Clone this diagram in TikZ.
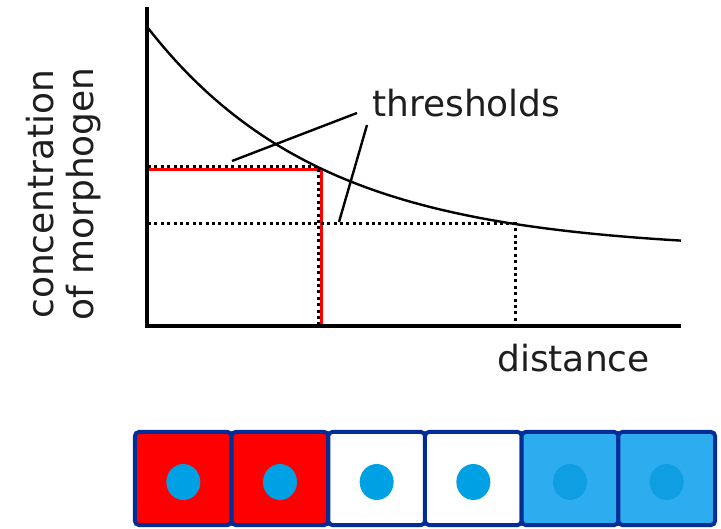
\documentclass[tikz,border=0pt]{standalone}
\usepackage{fontspec}
\setmainfont{DejaVu Sans}
\definecolor{cellborder}{RGB}{0,45,150}
\definecolor{dotblue}{RGB}{0,160,228}
\definecolor{cellblue}{RGB}{45,172,240}
\definecolor{dotdark}{RGB}{15,158,225}
\definecolor{pure red}{RGB}{255,0,0}
\definecolor{textgray}{RGB}{30,30,30}
\tikzset{
  axis/.style={line width=3.4pt},
  curve/.style={line width=2.4pt},
  redline/.style={line width=2.2pt, pure red},
  dotline/.style={line width=3pt, dash pattern=on 3pt off 3.4pt},
  leader/.style={line width=2.4pt},
  lbl/.style={font=\fontsize{36}{40}\selectfont, inner sep=0pt, text=textgray},
  cellbox/.style={draw=cellborder, line width=4pt, rounded corners=4pt, minimum width=96.7pt, minimum height=93pt, inner sep=0pt},
  celldot/.style={ellipse, minimum width=34pt, minimum height=36pt, inner sep=0pt, draw=none}
}
\usetikzlibrary{shapes.geometric}
\begin{document}
\begin{tikzpicture}[x=1pt,y=-1pt]
\useasboundingbox (0,0) rectangle (721,529);
% axes
\coordinate (ytop) at (147,7);
\coordinate (orig) at (147,326);
\coordinate (xend) at (681,326);
% threshold points
\coordinate (t1y) at (148,168);
\coordinate (t1) at (320,168);
\coordinate (t1x) at (320,326);
\coordinate (t2y) at (148,224);
\coordinate (t2) at (515,224);
\coordinate (t2x) at (515,326);
% red lines
\draw[redline] ([yshift=-1.5pt]t1y) -- ([xshift=1.5pt,yshift=-1.5pt]t1) -- ([xshift=1.5pt]t1x);
% dotted lines
\draw[dotline] ([yshift=1.5pt]t1y) -- ([yshift=1.5pt,xshift=-1.5pt]t1) -- ([xshift=-1.5pt]t1x);
\draw[dotline] (t2y) -- (t2) -- (t2x);
% curve
\draw[curve] plot[domain=0:533, samples=120, smooth] ({148+\x},{326-75-223*exp(-0.00575*\x)});
% axes on top
\draw[axis] (ytop) -- (orig) -- (xend);
% labels
\node[lbl, anchor=base west] (thr) at (372,117) {thresholds};
\coordinate (l1a) at (232,161);
\coordinate (l1b) at (357,113);
\coordinate (l2a) at (367,125);
\coordinate (l2b) at (339,222);
\draw[leader] (l1a) -- (l1b);
\draw[leader] (l2a) -- (l2b);
\node[lbl, anchor=base west] (dist) at (497,372) {distance};
\node[lbl, rotate=90, align=center, anchor=center] (conc) at (64,194) {concentration\\of morphogen};
% cells
\foreach \i/\fc/\dc in {0/pure red/dotblue,1/pure red/dotblue,2/white/dotblue,3/white/dotblue,4/cellblue/dotdark,5/cellblue/dotdark}{
  \node[cellbox, fill=\fc] (cell\i) at ({135+96.67*\i+48.33},478.5) {};
  \node[celldot, fill=\dc] (dot\i) at ({135+96.67*\i+48.33},482) {};
}
\end{tikzpicture}
\end{document}
